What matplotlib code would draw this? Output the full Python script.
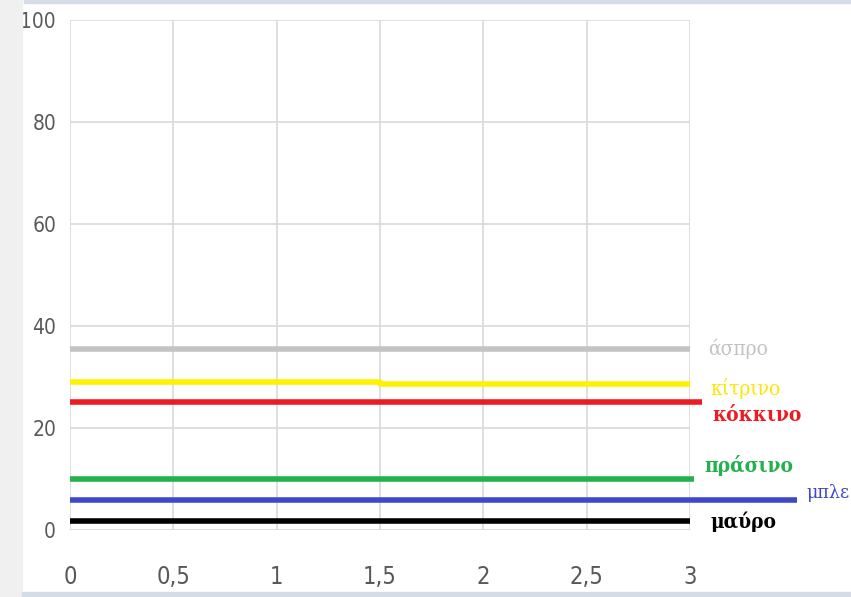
import matplotlib
matplotlib.use("Agg")
import matplotlib.pyplot as plt
from matplotlib.patches import Rectangle

# ---- data ----
names = ["άσπρο", "κίτρινο", "κόκκινο", "πράσινο", "μπλε", "μαύρο"]
grey_x = [0, 3];            grey_y = [35.5, 35.5]
yellow_x = [0, 1.5, 1.5, 3]; yellow_y = [29.0, 29.0, 28.6, 28.6]
red_x = [0, 3.06];          red_y = [25.1, 25.1]
green_x = [0, 3.02];        green_y = [10.0, 10.0]
blue_x = [0, 3.52];         blue_y = [5.9, 5.9]
black_x = [0, 3];           black_y = [1.8, 1.8]
xticks = [0, 0.5, 1, 1.5, 2, 2.5, 3]
xtick_labels = ["0", "0,5", "1", "1,5", "2", "2,5", "3"]
yticks = [0, 20, 40, 60, 80, 100]

series = [
    (grey_x, grey_y, "#c3c3c3", "#c3c3c3", "normal", (3.09, 35.5)),
    (yellow_x, yellow_y, "#fff200", "#ffe600", "normal", (3.1, 27.8)),
    (red_x, red_y, "#ed1c24", "#ed1c24", "bold", (3.11, 22.7)),
    (green_x, green_y, "#22b14c", "#22b14c", "bold", (3.07, 12.7)),
    (blue_x, blue_y, "#3f48cc", "#3f48cc", "normal", (3.565, 7.3)),
    (black_x, black_y, "#000000", "#000000", "bold", (3.1, 1.6)),
]

W, H = 851, 597
fig = plt.figure(figsize=(W / 100, H / 100), dpi=100)
fig.patch.set_facecolor("white")
# frame strips
fig.patches.append(Rectangle((0, 0), 22 / W, 1, transform=fig.transFigure,
                             color="#f0f0f0", zorder=0))
fig.patches.append(Rectangle((22 / W, 0), 1, 5 / H, transform=fig.transFigure,
                             color="#d6dce5", zorder=0))
fig.patches.append(Rectangle((24 / W, 1 - 3 / H), 1, 3 / H, transform=fig.transFigure,
                             color="#d6dce5", zorder=0))

left, right = 70 / W, 690 / W
bottom, top = 1 - 530 / H, 1 - 20 / H
ax = fig.add_axes([left, bottom, right - left, top - bottom])
ax.set_xlim(0, 3)
ax.set_ylim(0, 100)
for s in ax.spines.values():
    s.set_visible(False)
ax.set_xticks(xticks)
ax.set_xticklabels(xtick_labels)
ax.set_yticks(yticks)
ax.grid(True, color="#d9d9d9", linewidth=1.2)
ax.set_axisbelow(True)
ax.tick_params(length=0, colors="#595959")
ax.tick_params(axis="x", pad=25, labelsize=17)
ax.tick_params(axis="y", pad=10, labelsize=15)
for lab in ax.get_xticklabels() + ax.get_yticklabels():
    lab.set_family(["DejaVu Sans"])
    lab.set_stretch("condensed")
    lab.set_color("#595959")

for (xs, ys, c, tc, w, pos), name in zip(series, names):
    ax.plot(xs, ys, color=c, linewidth=4, solid_capstyle="butt", clip_on=False, zorder=3)
    ax.text(pos[0], pos[1], name, color=tc, fontsize=14 if name == "μπλε" else 15,
            fontweight=w, family=["DejaVu Serif"], fontstretch="condensed",
            ha="left", va="center", clip_on=False)

fig.savefig("out.png", dpi=100)
